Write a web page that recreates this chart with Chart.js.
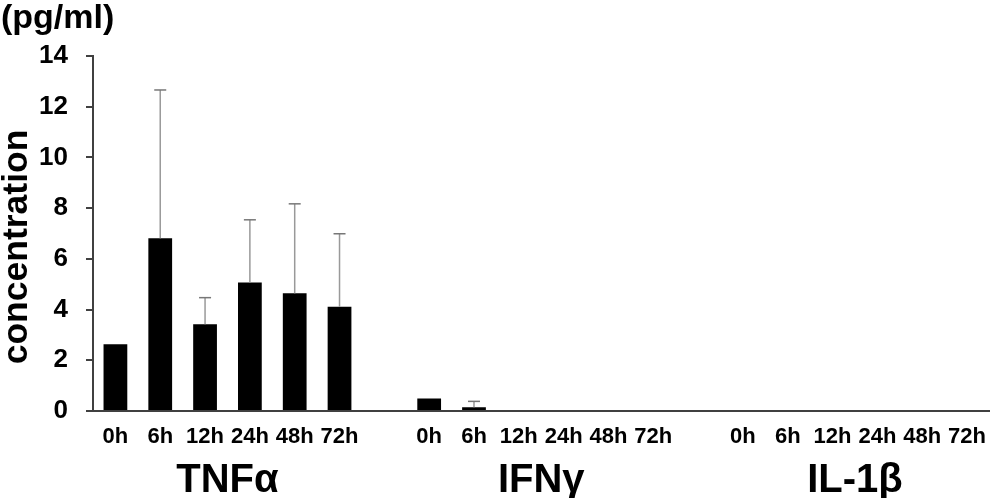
<!DOCTYPE html>
<html>
<head>
<meta charset="utf-8">
<script src="https://cdn.jsdelivr.net/npm/chart.js@4"></script>
<style>
  html, body { margin: 0; padding: 0; background: #fff; }
  #wrap { width: 999px; height: 498px; position: relative; }
</style>
</head>
<body>
<div id="wrap"><canvas id="c" width="999" height="498"></canvas></div>
<script>
// ---- data ----
const timePoints = ['0h', '6h', '12h', '24h', '48h', '72h'];
const groupNames = ['TNFα', 'IFNγ', 'IL-1β'];
const tnfMean  = [2.63, 6.81, 3.42, 5.07, 4.64, 4.11];
const tnfUpper = [null, 12.66, 4.47, 7.54, 8.17, 6.99];
const ifnMean  = [0.49, 0.15, 0, 0, 0, 0];
const ifnUpper = [null, 0.38, null, null, null, null];
const il1bMean = [0, 0, 0, 0, 0, 0];
const il1bUpper = [null, null, null, null, null, null];
const yTicks = [0, 2, 4, 6, 8, 10, 12, 14];
const yTitle = 'concentration';
const unitLabel = '(pg/ml)';

// build category axis with a blank slot between groups
const labels = [], values = [], uppers = [], groupIdx = [];
const groupMeans = [tnfMean, ifnMean, il1bMean];
const groupUppers = [tnfUpper, ifnUpper, il1bUpper];
groupMeans.forEach((m, g) => {
  if (g > 0) { labels.push(''); values.push(null); uppers.push(null); groupIdx.push(null); }
  timePoints.forEach((t, i) => {
    labels.push(t); values.push(m[i]); uppers.push(groupUppers[g][i]); groupIdx.push(g);
  });
});

const FONT = '"Liberation Sans", Arial, sans-serif';

const errorBars = {
  id: 'errorBars',
  afterDatasetsDraw(chart) {
    const ctx = chart.ctx, x = chart.scales.x, y = chart.scales.y;
    ctx.save();
    uppers.forEach((u, i) => {
      if (u == null || values[i] == null) return;
      const px = x.getPixelForValue(i);
      const y0 = y.getPixelForValue(values[i]);
      const y1 = y.getPixelForValue(u);
      ctx.strokeStyle = '#999999';
      ctx.lineWidth = 1.5;
      ctx.beginPath(); ctx.moveTo(px, y0); ctx.lineTo(px, y1); ctx.stroke();
      ctx.strokeStyle = '#777777';
      ctx.beginPath(); ctx.moveTo(px - 6, y1); ctx.lineTo(px + 6, y1); ctx.stroke();
    });
    ctx.restore();
  }
};

const textLabels = {
  id: 'textLabels',
  afterDraw(chart) {
    const ctx = chart.ctx, x = chart.scales.x;
    ctx.save();
    ctx.fillStyle = '#000';
    // unit label
    ctx.font = 'bold 34px ' + FONT;
    ctx.textAlign = 'left'; ctx.textBaseline = 'alphabetic';
    ctx.fillText(unitLabel, 1, 28);
    // y title
    ctx.save();
    ctx.translate(27, 247);
    ctx.rotate(-Math.PI / 2);
    ctx.font = 'bold 35.5px ' + FONT;
    ctx.textAlign = 'center';
    ctx.fillText(yTitle, 0, 0);
    ctx.restore();
    // group labels
    ctx.font = 'bold 40px ' + FONT;
    ctx.textAlign = 'center';
    groupNames.forEach((name, g) => {
      const idx = groupIdx.map((v, i) => v === g ? i : -1).filter(i => i >= 0);
      const cx = (x.getPixelForValue(idx[0]) + x.getPixelForValue(idx[idx.length - 1])) / 2;
      ctx.fillText(name, cx, 492);
    });
    ctx.restore();
  }
};

new Chart(document.getElementById('c'), {
  type: 'bar',
  data: {
    labels: labels,
    datasets: [{
      data: values,
      backgroundColor: '#000000',
      borderWidth: 0,
      categoryPercentage: 1.0,
      barPercentage: 0.53
    }]
  },
  options: {
    responsive: false,
    animation: false,
    events: [],
    layout: { padding: { top: 56, left: 0, right: 0, bottom: 0 } },
    plugins: { legend: { display: false }, tooltip: { enabled: false }, title: { display: false } },
    scales: {
      x: {
        offset: true,
        grid: { display: false, drawTicks: false },
        border: { display: true, color: '#404040', width: 2 },
        ticks: {
          autoSkip: false, maxRotation: 0, padding: 13,
          color: '#000', font: { family: FONT, size: 22, weight: 'bold' }
        },
        afterFit(s) { s.height = 87; }
      },
      y: {
        min: 0, max: 14,
        afterBuildTicks(s) { s.ticks = yTicks.map(v => ({ value: v })); },
        grid: { drawOnChartArea: false, drawTicks: true, tickLength: 7, color: '#404040', lineWidth: 2 },
        border: { display: true, color: '#404040', width: 2 },
        ticks: {
          padding: 18, color: '#000',
          font: { family: FONT, size: 26, weight: 'bold' }
        },
        afterFit(s) { s.width = 93; }
      }
    }
  },
  plugins: [errorBars, textLabels]
});
</script>
</body>
</html>
